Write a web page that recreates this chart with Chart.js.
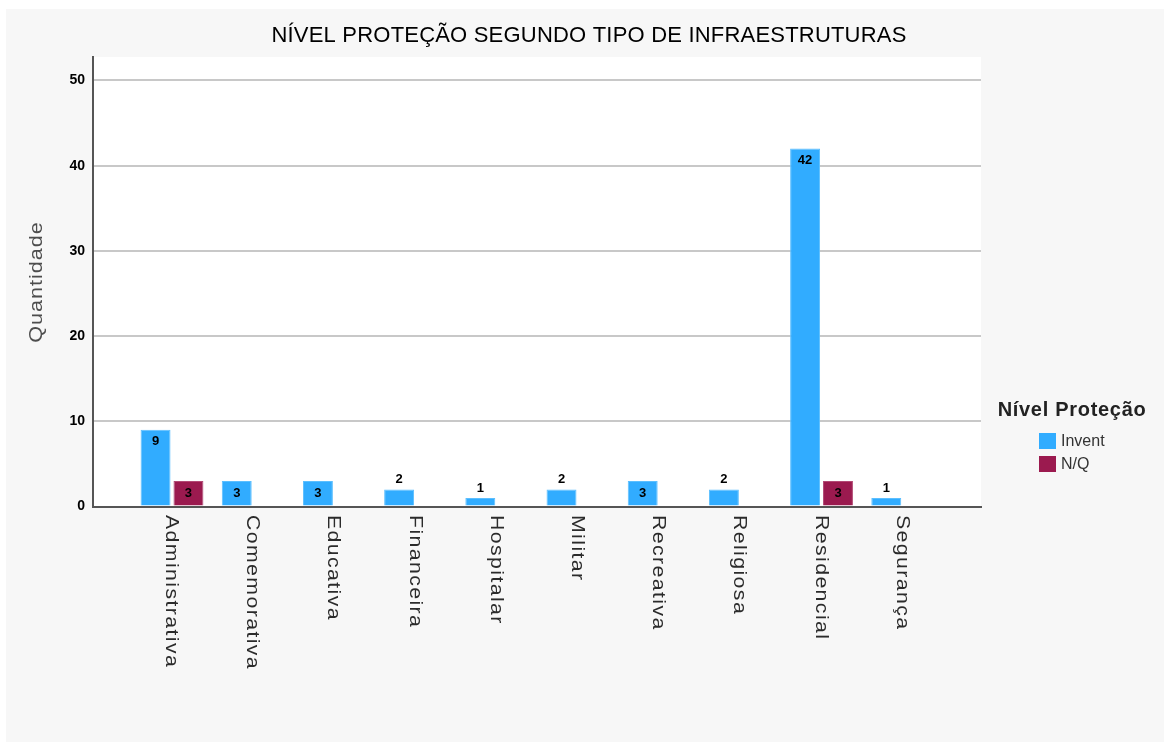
<!DOCTYPE html>
<html>
<head>
<meta charset="utf-8">
<title>Nível Proteção segundo tipo de infraestruturas</title>
<script src="https://cdn.jsdelivr.net/npm/chart.js@4.4.0/dist/chart.umd.min.js"></script>
<style>
    html, body { margin: 0; padding: 0; background: #ffffff; }
    #wrap { width: 1164px; height: 742px; }
</style>
</head>
<body>
<div id="wrap"><canvas id="protChart" width="1164" height="742"></canvas></div>
<script>
// categories on the x axis
const categories = ['Administrativa', 'Comemorativa', 'Educativa', 'Financeira', 'Hospitalar',
                    'Militar', 'Recreativa', 'Religiosa', 'Residencial', 'Segurança'];
// counts per series (null = no bar)
const inventValues = [9, 3, 3, 2, 1, 2, 3, 2, 42, 1];
const nqValues = [3, null, null, null, null, null, null, null, 3, null];
const seriesNames = ['Invent', 'N/Q'];
const seriesColors = ['#31acff', '#9b1a4f'];
const yTickValues = [0, 10, 20, 30, 40, 50];

const chartTitle = 'NÍVEL PROTEÇÃO SEGUNDO TIPO DE INFRAESTRUTURAS';
const yTitle = 'Quantidade';
const legendTitle = 'Nível Proteção';

const FONT = "'Liberation Sans', Arial, sans-serif";

// bars sit on a linear x axis so the plot can keep the empty margin on both sides
function toPoints(values) {
    return values.map((v, i) => ({ x: i, y: v }));
}

// rotated text in the original is stretched along its length
function drawRotated(ctx, text, x, y, angle, stretch, align) {
    ctx.save();
    ctx.translate(x, y);
    ctx.rotate(angle);
    ctx.scale(stretch, 1);
    ctx.textAlign = align;
    ctx.fillText(text, 0, 0);
    ctx.restore();
}

const extras = {
    id: 'extras',
    beforeDraw(chart) {
        const { ctx, chartArea: a } = chart;
        ctx.save();
        ctx.fillStyle = '#ffffff';
        ctx.fillRect(0, 0, chart.width, chart.height);
        ctx.fillStyle = '#f7f7f7';             // grey panel
        ctx.fillRect(6, 9, chart.width - 6, chart.height - 9);
        ctx.fillStyle = '#ffffff';             // white plot area
        ctx.fillRect(a.left, a.top, a.right - a.left, a.bottom - a.top);
        ctx.restore();
    },
    afterDatasetsDraw(chart) {
        // value labels: inside the bar top when there is room, else just above
        const ctx = chart.ctx;
        ctx.save();
        ctx.font = 'bold 13px ' + FONT;
        ctx.fillStyle = '#000000';
        ctx.textAlign = 'center';
        ctx.textBaseline = 'middle';
        chart.data.datasets.forEach((ds, di) => {
            const meta = chart.getDatasetMeta(di);
            meta.data.forEach((bar, i) => {
                const v = ds.data[i].y;
                if (v === null) return;
                const h = bar.base - bar.y;
                const y = h > 20 ? bar.y + 12 : bar.y - 10;
                ctx.fillText(String(v), bar.x, y);
            });
        });
        ctx.restore();
    },
    afterDraw(chart) {
        const ctx = chart.ctx;
        const xScale = chart.scales.x;
        ctx.save();
        ctx.textBaseline = 'middle';

        // chart title
        ctx.font = '22px ' + FONT;
        ctx.letterSpacing = '0.2px';
        ctx.fillStyle = '#000000';
        ctx.textAlign = 'center';
        ctx.fillText(chartTitle, 589, 36);

        // y axis title
        ctx.font = '18px ' + FONT;
        ctx.letterSpacing = '0.8px';
        ctx.fillStyle = '#4d4d4d';
        drawRotated(ctx, yTitle, 37, 282, -Math.PI / 2, 1.2, 'center');

        // category labels, reading downwards
        ctx.font = '18px ' + FONT;
        ctx.letterSpacing = '1.2px';
        ctx.fillStyle = '#2b2b2b';
        categories.forEach((cat, i) => {
            drawRotated(ctx, cat, xScale.getPixelForValue(i) - 1, 515, Math.PI / 2, 1.18, 'left');
        });

        // legend
        ctx.font = 'bold 20px ' + FONT;
        ctx.letterSpacing = '0.7px';
        ctx.fillStyle = '#222222';
        ctx.textAlign = 'center';
        ctx.fillText(legendTitle, 1072, 410);
        ctx.letterSpacing = '0px';
        ctx.font = '16px ' + FONT;
        ctx.textAlign = 'left';
        seriesNames.forEach((name, i) => {
            const top = 433 + i * 23;
            ctx.fillStyle = seriesColors[i];
            ctx.fillRect(1039, top, 17, 16);
            ctx.fillStyle = '#333333';
            ctx.fillText(name, 1061, top + 9);
        });
        ctx.restore();
    }
};

const ctx = document.getElementById('protChart');
const protChart = new Chart(ctx, {
    type: 'bar',
    data: {
        datasets: [
            {
                label: seriesNames[0],
                data: toPoints(inventValues),
                backgroundColor: seriesColors[0],
                borderColor: '#5cbfff',
                borderWidth: 1,
                barPercentage: 0.91,
                categoryPercentage: 0.833
            },
            {
                label: seriesNames[1],
                data: toPoints(nqValues),
                backgroundColor: seriesColors[1],
                borderColor: '#b24a75',
                borderWidth: 1,
                barPercentage: 0.91,
                categoryPercentage: 0.833
            }
        ]
    },
    options: {
        responsive: false,
        devicePixelRatio: 1,
        animation: false,
        events: [],
        layout: {
            padding: { top: 57, left: 0, right: 183, bottom: 235.5 }
        },
        scales: {
            x: {
                type: 'linear',
                offset: false,
                min: -0.973,
                max: 9.964,
                grid: { display: false },
                ticks: { display: false },
                border: { color: '#555555', width: 2 },
                afterFit: s => { s.height = 0; }
            },
            y: {
                min: 0,
                max: 52.75,
                afterFit: s => { s.width = 93; },
                afterBuildTicks: s => { s.ticks = yTickValues.map(v => ({ value: v })); },
                ticks: {
                    padding: 8,
                    color: '#000000',
                    font: { family: FONT, size: 14, weight: 'bold' }
                },
                grid: { color: '#c8c8c8', lineWidth: 2, drawTicks: false },
                border: { color: '#555555', width: 2 }
            }
        },
        plugins: {
            legend: { display: false },
            title: { display: false },
            tooltip: { enabled: false }
        }
    },
    plugins: [extras]
});
</script>
</body>
</html>
